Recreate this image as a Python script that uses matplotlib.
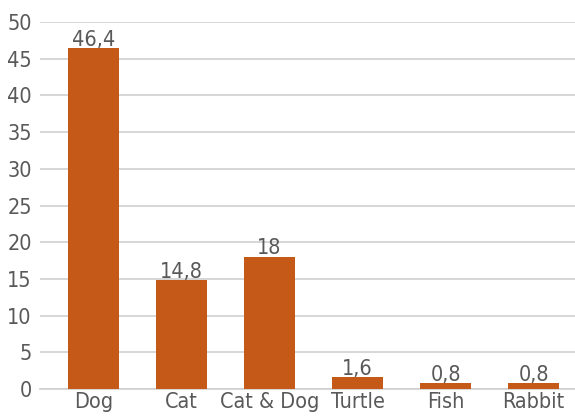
import matplotlib
matplotlib.use("Agg")
import matplotlib.pyplot as plt

categories = ["Dog", "Cat", "Cat & Dog", "Turtle", "Fish", "Rabbit"]
values = [46.4, 14.8, 18, 1.6, 0.8, 0.8]
labels = ["46,4", "14,8", "18", "1,6", "0,8", "0,8"]
yticks = [0, 5, 10, 15, 20, 25, 30, 35, 40, 45, 50]

plt.rcParams['font.family'] = ['DejaVu Sans']
plt.rcParams['font.stretch'] = 'condensed'

txt = "#595959"
fig = plt.figure(figsize=(5.75, 4.18), dpi=100)
ax = fig.add_axes([40/575, 29/418, 535/575, 367/418])
x = list(range(len(categories)))
ax.bar(x, values, width=0.58, color="#C55A18", zorder=3)
for xi, v, l in zip(x, values, labels):
    ax.text(xi, v + 0.35, l, ha="center", va="baseline", fontsize=15.5, color=txt, zorder=4)
ax.set_xlim(-0.61, 5.47)
ax.set_ylim(0, 50)
ax.set_yticks(yticks)
ax.set_xticks(x)
ax.set_xticklabels(categories)
ax.tick_params(axis="both", length=0, labelsize=15.5, colors=txt)
ax.tick_params(axis="y", pad=6)
ax.tick_params(axis="x", pad=2)
ax.grid(axis="y", color="#CFCFCF", linewidth=1.2, zorder=0)
for s in ["top", "right", "left"]:
    ax.spines[s].set_visible(False)
ax.spines["bottom"].set_color("#CFCFCF")
ax.spines["bottom"].set_linewidth(1.2)
fig.savefig("out.png", dpi=100)
